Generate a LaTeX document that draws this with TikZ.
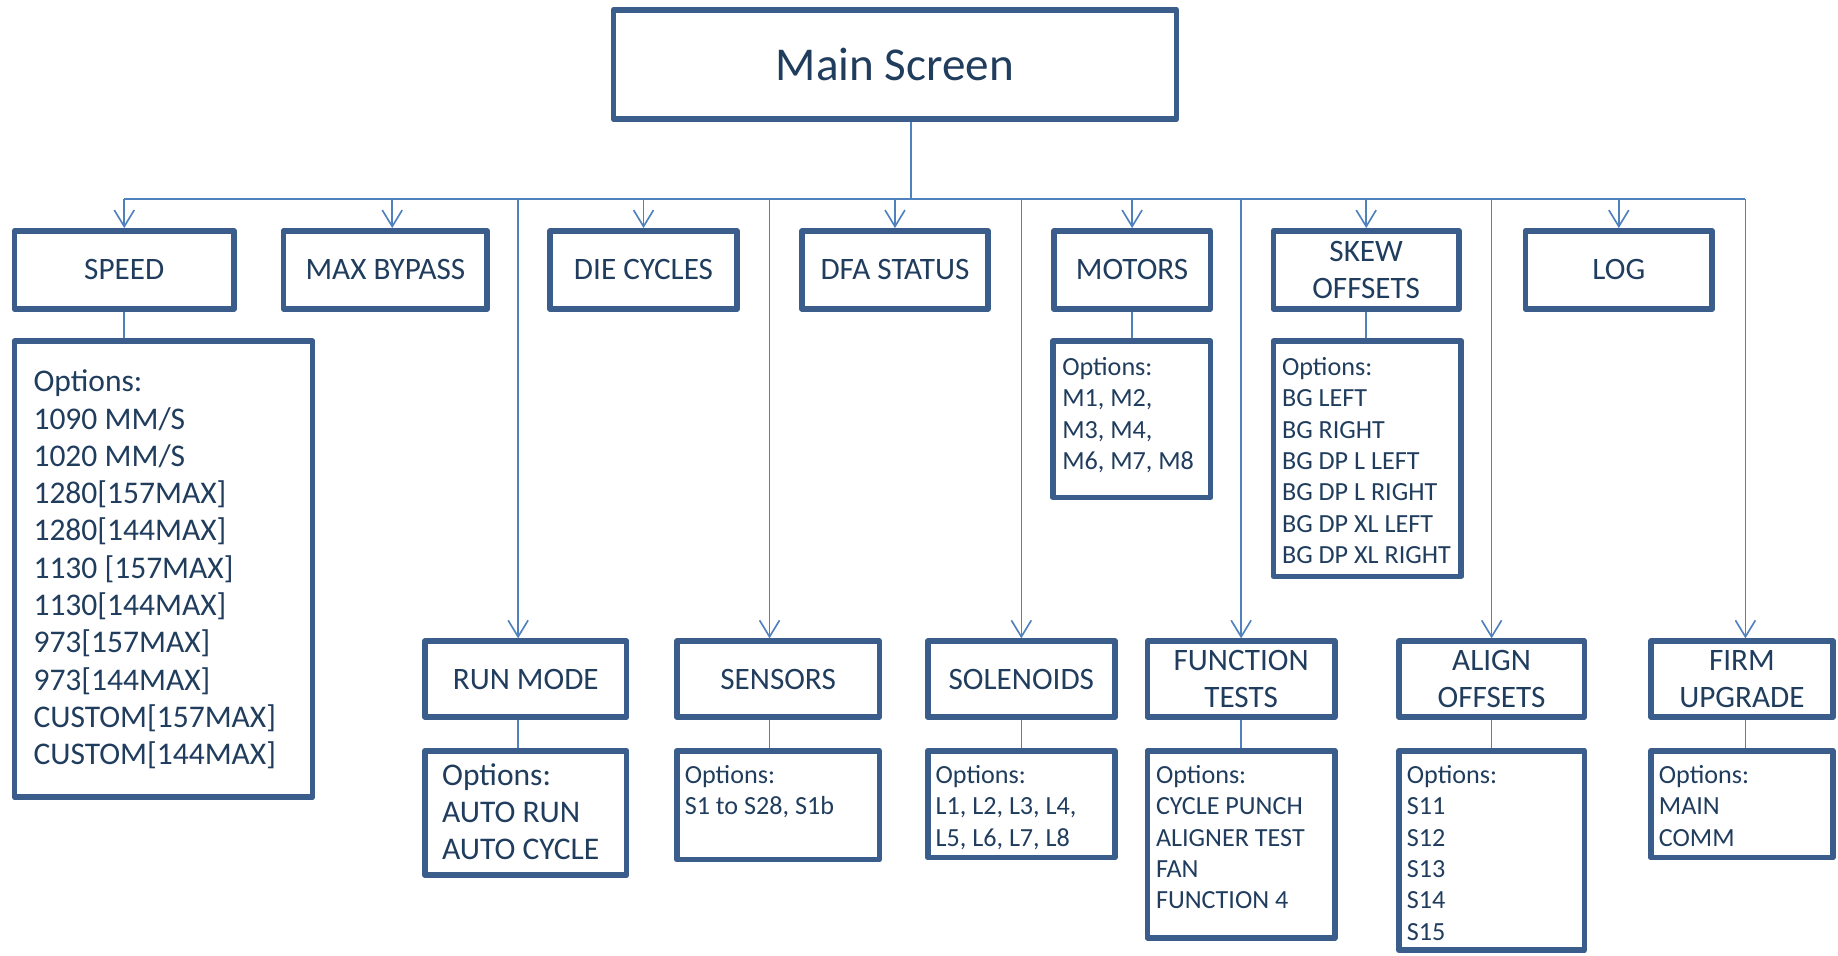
\documentclass[tikz,border=0pt]{standalone}
\usepackage{fontspec}
\setmainfont{Carlito}
\usetikzlibrary{arrows.meta,calc}

\definecolor{boxblue}{HTML}{3A5D8B}
\definecolor{inkblue}{HTML}{203D5E}
\definecolor{wireblue}{HTML}{4F81BD}

\newcommand{\labelfont}{\fontsize{26.6}{32}\selectfont}
\newcommand{\bigoptfont}{\fontsize{26.9}{31.8}\selectfont}
\newcommand{\optfont}{\fontsize{22.3}{26.8}\selectfont}
\newcommand{\titlefont}{\fontsize{40.2}{47}\selectfont}

\begin{document}
\begin{tikzpicture}[x=1pt,y=-1pt,
  menubox/.style={draw=boxblue, line width=4.8pt, line join=round, fill=white,
    text=inkblue, inner sep=0pt, outer sep=auto, align=center, font=\labelfont},
  sz/.style 2 args={minimum width={#1pt-0.5pt}, minimum height={#2pt-0.5pt}},
  opttext/.style={anchor=north west, inner sep=0pt, text=inkblue, align=left},
  link/.style={draw=wireblue, line width=1.4pt},
  feed/.style={link, -{Straight Barb[length=14pt,width=17pt]}},
]
\fill[white] (0,0) rectangle (1568,815);
\useasboundingbox (0,0) rectangle (1568,815);

% root
\node[menubox, sz={480.7}{93.7}, font=\titlefont] (main) at (763.5,55) {Main Screen};

% first level, upper row
\node[menubox, sz={187.7}{67.2}] (speed)  at (106,230.3)    {SPEED};
\node[menubox, sz={174.2}{67.2}] (maxbp)  at (328.8,230.3)  {MAX BYPASS};
\node[menubox, sz={159.7}{67.2}] (die)    at (549,230.3)    {DIE CYCLES};
\node[menubox, sz={158.7}{67.2}] (dfa)    at (763.5,230.3)  {DFA STATUS};
\node[menubox, sz={134}{67.2}]   (motors) at (965.8,230.3)  {MOTORS};
\node[menubox, sz={158.7}{67.2}] (skew)   at (1165.5,230.3) {SKEW\\OFFSETS};
\node[menubox, sz={159.7}{67.2}] (log)    at (1381,230.3)   {LOG};

% first level, lower row
\node[menubox, sz={172.7}{65.2}] (run)      at (448.5,579.3)  {RUN MODE};
\node[menubox, sz={173.2}{65.2}] (sens)     at (663.8,579.3)  {SENSORS};
\node[menubox, sz={160.2}{65.2}] (sol)      at (871.3,579.3)  {SOLENOIDS};
\node[menubox, sz={160.2}{65.2}] (func)     at (1058.8,579.3) {FUNCTION\\TESTS};
\node[menubox, sz={158.7}{65.2}] (alignoff) at (1272.5,579.3) {ALIGN\\OFFSETS};
\node[menubox, sz={155.7}{65.2}] (firm)     at (1486,579.3)   {FIRM\\UPGRADE};

% option panels
\node[menubox, sz={254.7}{389.7}] (speedopt)  at (139.5,485.5)  {};
\node[menubox, sz={135}{133.8}]   (motorsopt) at (965.4,357.6)  {};
\node[menubox, sz={160.7}{201.2}] (skewopt)   at (1166.5,391.3) {};
\node[menubox, sz={172.7}{106.7}] (runopt)    at (448.5,693.5)  {};
\node[menubox, sz={173.2}{93.3}]  (sensopt)   at (663.8,686.8)  {};
\node[menubox, sz={160.2}{91.7}]  (solopt)    at (871.3,686)    {};
\node[menubox, sz={160.2}{160.2}] (funcopt)   at (1058.8,720.3) {};
\node[menubox, sz={158.7}{170.7}] (alignopt)  at (1272.5,725.5) {};
\node[menubox, sz={155.7}{91.7}]  (firmopt)   at (1486,686)     {};

% option lists
\node[opttext, font=\bigoptfont] (speedlist) at (28.4,311.8)
  {\strut Options:\\1090 MM/S\\1020 MM/S\\1280[157MAX]\\1280[144MAX]\\1130 [157MAX]\\1130[144MAX]\\973[157MAX]\\973[144MAX]\\CUSTOM[157MAX]\\CUSTOM[144MAX]};
\node[opttext, font=\optfont] (motorslist) at (906,301.2)
  {\strut Options:\\M1, M2,\\M3, M4,\\M6, M7, M8};
\node[opttext, font=\optfont] (skewlist) at (1093.5,301.2)
  {\strut Options:\\BG LEFT\\BG RIGHT\\BG DP L LEFT\\BG DP L RIGHT\\BG DP XL LEFT\\BG DP XL RIGHT};
\node[opttext, font=\bigoptfont] (runlist) at (377,647.4)
  {\strut Options:\\AUTO RUN\\AUTO CYCLE};
\node[opttext, font=\optfont] (senslist) at (584,649.2)
  {\strut Options:\\S1 to S28, S1b};
\node[opttext, font=\optfont] (sollist) at (798,649.2)
  {\strut Options:\\L1, L2, L3, L4,\\L5, L6, L7, L8};
\node[opttext, font=\optfont] (funclist) at (986,649.2)
  {\strut Options:\\CYCLE PUNCH\\ALIGNER TEST\\FAN\\FUNCTION 4};
\node[opttext, font=\optfont] (alignlist) at (1200,649.2)
  {\strut Options:\\S11\\S12\\S13\\S14\\S15};
\node[opttext, font=\optfont] (firmlist) at (1415,649.2)
  {\strut Options:\\MAIN\\COMM};

% distribution bus
\coordinate (hub)   at (777,170);
\coordinate (mbx)   at (334.6,0);
\coordinate (runx)  at (442,0);
\coordinate (sensx) at (656.5,0);
\coordinate (firmx) at (1489,0);

\draw[link] (main.south -| hub) -- (hub);
\draw[link] (speed.north |- hub) -- (firmx |- hub);

% drops to the upper row
\draw[feed] (speed.north |- hub)  -- (speed.north);
\draw[feed] (mbx |- hub)          -- (mbx |- maxbp.north);
\draw[feed] (die.north |- hub)    -- (die.north);
\draw[feed] (dfa.north |- hub)    -- (dfa.north);
\draw[feed] (motors.north |- hub) -- (motors.north);
\draw[feed] (skew.north |- hub)   -- (skew.north);
\draw[feed] (log.north |- hub)    -- (log.north);

% drops to the lower row
\draw[feed] (runx |- hub)           -- (runx |- run.north);
\draw[feed] (sensx |- hub)          -- (sensx |- sens.north);
\draw[feed] (sol.north |- hub)      -- (sol.north);
\draw[feed] (func.north |- hub)     -- (func.north);
\draw[feed] (alignoff.north |- hub) -- (alignoff.north);
\draw[feed] (firmx |- hub)          -- (firmx |- firm.north);

% menus to their option panels
\draw[link] (speed.south)    -- (speed.south |- speedopt.north);
\draw[link] (motors.south)   -- (motors.south |- motorsopt.north);
\draw[link] (skew.south)     -- (skew.south |- skewopt.north);
\draw[link] (runx |- run.south)   -- (runx |- runopt.north);
\draw[link] (sensx |- sens.south) -- (sensx |- sensopt.north);
\draw[link] (sol.south)      -- (sol.south |- solopt.north);
\draw[link] (func.south)     -- (func.south |- funcopt.north);
\draw[link] (alignoff.south) -- (alignoff.south |- alignopt.north);
\draw[link] (firmx |- firm.south) -- (firmx |- firmopt.north);
\end{tikzpicture}
\end{document}
